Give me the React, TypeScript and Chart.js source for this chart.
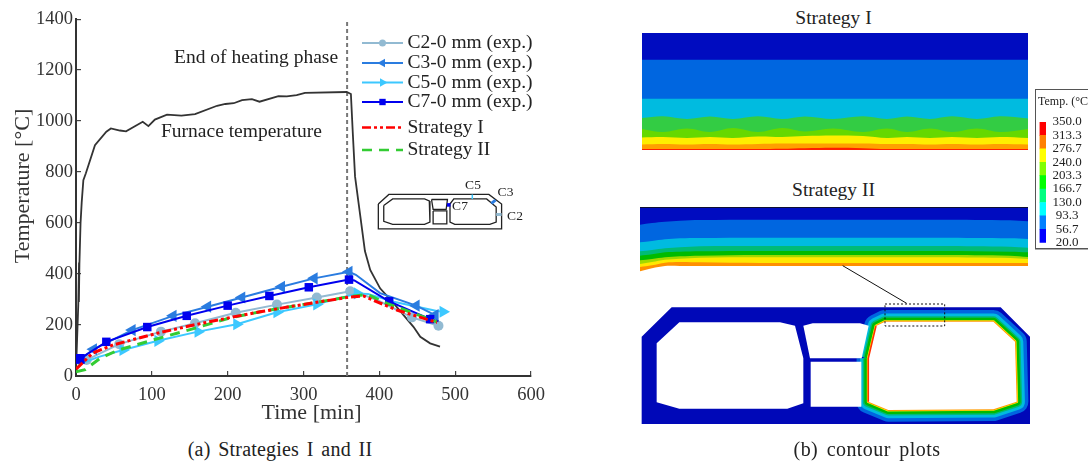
import React, { useEffect, useRef } from "react";
import { Chart, registerables } from "chart.js";

Chart.register(...registerables);

const SERIF = "'Liberation Serif', serif";

// ---------- (a) temperature curves ----------
const furnaceTime = [0, 3, 4, 3.8, 4.5, 6, 7.5, 9.7, 13, 25, 40, 46, 58, 66, 88, 95.5, 104, 120, 139, 157, 186, 197, 208, 219, 232, 242, 267, 278, 291, 302, 357, 362.5, 365, 368, 375, 381, 388, 401, 419, 445, 454, 467, 480];
const furnaceTemp = [20, 280, 445, 290, 440, 600, 680, 768, 795, 905, 958, 971, 963, 960, 997, 980, 1006, 1025, 1021, 1027, 1060, 1067, 1070, 1082, 1086, 1076, 1098, 1097, 1102, 1111, 1114, 1106, 953, 782, 625, 490, 416, 344, 285, 193, 154, 128, 115];
const endOfHeatingTime = [357.5, 357.5];
const endOfHeatingTemp = [0, 1400];

const c2Time = [3, 14, 57, 112, 157, 210.6, 265, 317.5, 361.5, 370, 397, 443, 478];
const c2Temp = [50, 63, 125, 174, 207, 248, 280, 308, 332, 328, 298, 230, 197];
const c2Radius = [0, 5, 5, 5, 5, 5, 5, 5, 5, 0, 0, 5, 5];

const c3Time = [3, 23, 74, 128, 173.6, 218.6, 271, 314, 360, 369, 401, 448.5, 473.6];
const c3Temp = [60, 105, 180, 236, 272, 308, 350, 383, 409, 397, 325, 276, 239];
const c3Radius = [0, 7, 7, 7, 7, 7, 7, 7, 7, 0, 0, 7, 7];

const c5Time = [3, 30, 62, 108, 161, 212, 265, 317.5, 371, 385, 419, 476, 484];
const c5Temp = [45, 75, 102, 138, 174, 203, 250, 281, 324, 322, 291, 255, 252];
const c5Radius = [0, 0, 7, 7, 7, 7, 7, 7, 7, 0, 0, 0, 7];

const c7Time = [0, 5, 40, 94, 146, 200, 255, 307, 360, 367, 413, 467, 478];
const c7Temp = [60, 67, 134, 192, 236, 276, 314, 348, 378, 375, 293, 223, 215];
const c7Radius = [0, 7, 6, 6, 6, 6, 6, 6, 6, 0, 6, 6, 0];

const s1Time = [0, 22, 49, 106, 155, 203, 243, 282, 317.5, 357, 379, 397, 423, 476];
const s1Temp = [27, 90, 122, 167, 200, 229, 252, 272, 289, 308, 314, 291, 259, 210];
const s2Time = [0, 12, 32, 56, 106, 155, 203, 243, 282, 317.5, 357, 384, 410, 476];
const s2Temp = [17, 25, 70, 102, 145, 186, 228, 252, 272, 289, 310, 320, 285, 212];

const xTickStep = 100;
const yTickStep = 200;

const legendLabels = ["C2-0 mm (exp.)", "C3-0 mm (exp.)", "C5-0 mm (exp.)", "C7-0 mm (exp.)", "Strategy I", "Strategy II"];
const legendRows = [43, 63, 82.5, 102, 127.5, 150];
const legendRadius = [3.5, 5, 5, 4.5, 0, 0];

// ---------- inset cross-section ----------
const insetOuter = [[45, 100], [78, 68], [392, 68], [432, 100], [432, 183], [45, 183], [45, 100]];
const insetLeft = [[62, 105], [90, 83], [190, 83], [205, 90], [207, 160], [190, 168], [90, 168], [62, 158], [62, 105]];
const insetMidTop = [[212, 85], [262, 85], [258, 118], [217, 118], [212, 85]];
const insetMidBottom = [[217, 123], [260, 123], [260, 166], [217, 166], [217, 123]];
const insetRight = [[270, 100], [282, 83], [385, 83], [415, 110], [415, 160], [395, 168], [285, 168], [270, 160], [270, 100]];
const insetC5 = [[340, 68], [340, 83]];
const insetC3 = [[400, 98], [413, 87]];
const insetC2 = [[415, 135], [432, 135]];
const insetC7 = [[266, 103]];

// ---------- Strategy I band boundaries ----------
const s1X = [0, 21, 45, 68, 91, 116, 140, 163, 191, 221, 245, 265, 288, 310, 335, 358, 386];
const s1BlueTop = [26.7, 26.7, 26.7, 26.7, 26.7, 26.7, 26.7, 26.7, 26.7, 26.7, 26.7, 26.7, 26.7, 26.7, 26.7, 26.7, 26.7];
const s1CyanTop = [65.7, 65.7, 65.7, 65.7, 65.7, 65.7, 65.7, 65.7, 65.7, 65.7, 65.7, 65.7, 65.7, 65.7, 65.7, 65.7, 65.7];
const s1GreenTop = [85, 83.3, 86, 83.5, 86, 83.3, 86, 83.4, 86, 83.3, 86, 83.5, 86, 83.3, 86, 83.3, 85.5];
const s1LimeTop = [96, 99, 95.5, 99, 95, 99, 95, 98.5, 95.5, 99, 95.5, 99, 95.5, 99, 95.5, 99, 96];
const s1YellowTop = [104.5, 104, 105, 104, 105, 103.5, 104, 103, 102.5, 103, 105, 104, 105, 104, 105, 104, 105];
const s1OrangeTop = [111.5, 111, 111.5, 111, 111.5, 111, 110.5, 110.5, 110.5, 110.5, 111, 111, 111.5, 111, 111.5, 111, 111.5];
const s1RedTop = [116, 116, 116, 116, 116, 116, 115.7, 115.2, 114.8, 115.2, 116, 116, 116, 116, 116, 116, 116];

// ---------- Strategy II band boundaries ----------
const s2X = [0, 12, 25, 40, 60, 120, 200, 300, 370, 388];
const s2BlueTop = [17.7, 16, 14.7, 13.7, 13, 12.7, 12.7, 12.7, 13.3, 14.3];
const s2CyanTop = [35.3, 34, 32.3, 31.3, 31, 30.7, 30.7, 30.7, 31.3, 32];
const s2TealTop = [44.3, 43, 41.3, 40.3, 39.3, 39, 39, 39, 39.7, 40.7];
const s2GreenTop = [48.7, 47.3, 45.3, 44.7, 44.3, 44, 44, 44, 44.7, 45.3];
const s2LimeTop = [53.3, 52, 50.3, 49.3, 48.7, 48, 48, 48, 48.7, 50];
const s2YellowTop = [57, 55, 52.7, 51.7, 50.7, 50.3, 50.3, 50.3, 51, 52];
const s2OrangeTop = [60, 58.3, 55.7, 55, 55.3, 56, 56, 56, 56, 56];
const s2WhiteTop = [64.3, 61.3, 59, 59, 59, 59, 59, 59, 59, 59];

// ---------- full section contour ----------
const sectionOuter = [[35, 125], [125, 37], [1112, 37], [1200, 125], [1200, 387], [35, 387], [35, 125]];
const sectionLeft = [[80, 145], [148, 82], [450, 82], [495, 92], [520, 190], [520, 325], [472, 341], [148, 341], [80, 322], [80, 145]];
const sectionMidTop = [[520, 92], [548, 85], [690, 85], [716, 92], [695, 190], [540, 190], [520, 92]];
const sectionMidBottom = [[542, 200], [694, 200], [694, 335], [542, 335], [542, 200]];
const sectionRight = [[715, 190], [738, 93], [765, 80], [1090, 80], [1155, 140], [1160, 320], [1090, 343], [775, 345], [715, 320], [715, 190]];
const sectionHotEdge = [[715, 320], [715, 190], [738, 93]];
const ringColours = ["#0066E0", "#00BBE0", "#00BB77", "#00BB00", "#FFE800", "#FF9A00"];
const ringWidths = [23.5, 16.5, 11, 8, 3, 1.8];
const leaderLine = [[638, -88], [830, 25]];
const zoomBox = [[765, 27], [944, 27], [944, 93], [765, 93], [765, 27]];

// ---------- colour legend ----------
const levels = [20, 56.7, 93.3, 130, 166.7, 203.3, 240, 276.7, 313.3, 350];
const levelColours = ["#0000FF", "#0080FF", "#00FFFF", "#00FF80", "#00FF00", "#80FF00", "#FFFF00", "#FF8000", "#FF0000"];

const zip = (xs: number[], ys: number[]) => xs.map((x, i) => ({ x, y: ys[i] }));
const pts = (p: number[][]) => p.map(([x, y]) => ({ x, y }));
const ordered = (list: any[]) => list.map((d, i) => ({ ...d, order: list.length - i }));

const notes = (items: any[]) => ({
  id: "notes",
  afterDatasetsDraw(chart: any) {
    const { ctx } = chart;
    ctx.textBaseline = "middle";
    items.forEach((n) => {
      ctx.save();
      ctx.fillStyle = n.color || "#222";
      ctx.font = n.font;
      ctx.textAlign = n.align || "left";
      ctx.translate(n.x, n.y);
      if (n.rotate) ctx.rotate(n.rotate);
      ctx.fillText(n.text, 0, 0);
      ctx.restore();
    });
  },
});

const baseOptions = {
  responsive: false,
  animation: false,
  events: [],
  elements: { point: { radius: 0 } },
  plugins: { legend: { display: false }, tooltip: { enabled: false }, title: { display: false } },
};

const hiddenScales = (xMin: number, xMax: number, yMin: number, yMax: number) => ({
  x: { type: "linear", display: false, min: xMin, max: xMax },
  y: { type: "linear", display: false, min: yMin, max: yMax, reverse: true },
});

const styleC2 = { borderColor: "#92BAD2", backgroundColor: "#92BAD2", pointStyle: "circle", pointRotation: 0 };
const styleC3 = { borderColor: "#2A7CE0", backgroundColor: "#2A7CE0", pointStyle: "triangle", pointRotation: -90 };
const styleC5 = { borderColor: "#3CC8FF", backgroundColor: "#3CC8FF", pointStyle: "triangle", pointRotation: 90 };
const styleC7 = { borderColor: "#0000EE", backgroundColor: "#0000EE", pointStyle: "rect", pointRotation: 0 };
const styleS1 = { borderColor: "#FF0000", borderDash: [9, 3, 3, 3, 3, 3] };
const styleS2 = { borderColor: "#33CC33", borderDash: [10, 7] };

const tickLabel = (v: any) => String(v);

const mainConfig = {
  type: "line",
  data: {
    datasets: ordered([
      { data: zip(endOfHeatingTime, endOfHeatingTemp), borderColor: "#777", borderWidth: 2, borderDash: [4, 3] },
      { data: zip(furnaceTime, furnaceTemp), borderColor: "#333", borderWidth: 1.8 },
      { data: zip(c2Time, c2Temp), ...styleC2, borderWidth: 2, pointRadius: c2Radius, pointBorderWidth: 0 },
      { data: zip(c5Time, c5Temp), ...styleC5, borderWidth: 2, pointRadius: c5Radius, pointBorderWidth: 0 },
      { data: zip(c3Time, c3Temp), ...styleC3, borderWidth: 2, pointRadius: c3Radius, pointBorderWidth: 0 },
      { data: zip(c7Time, c7Temp), ...styleC7, borderWidth: 2, pointRadius: c7Radius, pointBorderWidth: 0 },
      { data: zip(s2Time, s2Temp), ...styleS2, borderWidth: 3 },
      { data: zip(s1Time, s1Temp), ...styleS1, borderWidth: 3 },
    ]),
  },
  options: {
    ...baseOptions,
    layout: { padding: { top: 19, right: 29, left: 0, bottom: 0 } },
    scales: {
      x: {
        type: "linear",
        min: 0,
        max: 600,
        ticks: { stepSize: xTickStep, font: { family: SERIF, size: 18.5 }, color: "#333", padding: 13, maxRotation: 0, callback: tickLabel },
        grid: { drawOnChartArea: false, tickLength: -5, color: "#444", lineWidth: 1.2 },
        border: { color: "#333", width: 2 },
        afterFit: (s: any) => { s.height = 54; },
      },
      y: {
        type: "linear",
        min: 0,
        max: 1400,
        ticks: { stepSize: yTickStep, font: { family: SERIF, size: 18.5 }, color: "#333", padding: 8, callback: tickLabel },
        grid: { drawOnChartArea: false, tickLength: -5, color: "#444", lineWidth: 1.2 },
        border: { color: "#333", width: 2 },
        afterFit: (s: any) => { s.width = 76; },
      },
    },
  },
  plugins: [
    notes([
      { text: "End of heating phase", x: 174, y: 58, font: `19.5px ${SERIF}` },
      { text: "Furnace temperature", x: 161, y: 132, font: `19.5px ${SERIF}` },
      { text: "Time [min]", x: 311.5, y: 413, align: "center", font: `22px ${SERIF}`, color: "#333" },
      { text: "Temperature [°C]", x: 23, y: 186, align: "center", rotate: -Math.PI / 2, font: `22px ${SERIF}`, color: "#333" },
    ]),
  ],
};

const legendStyles = [styleC2, styleC3, styleC5, styleC7, styleS1, styleS2];
const legendConfig = {
  type: "line",
  data: {
    datasets: legendStyles.map((st, i) => ({
      data: [2, 22.5, 43].map((x) => ({ x, y: legendRows[i] })),
      ...st,
      borderWidth: i < 4 ? 2 : 2.5,
      pointRadius: [0, legendRadius[i], 0],
      pointBorderWidth: 0,
    })),
  },
  options: { ...baseOptions, layout: { padding: 0 }, scales: hiddenScales(0, 180, 30, 160) },
  plugins: [
    notes(legendLabels.map((text, i) => ({ text, x: 47.5, y: legendRows[i] - 30, font: `19.5px ${SERIF}` }))),
  ],
};

const insetLine = (p: number[][], color = "#222", width = 1.3) => ({ data: pts(p), borderColor: color, borderWidth: width });
const insetConfig = {
  type: "line",
  data: {
    datasets: ordered([
      insetLine(insetOuter),
      insetLine(insetLeft),
      insetLine(insetMidTop),
      insetLine(insetMidBottom),
      insetLine(insetRight),
      insetLine(insetC5, "#3CC8FF", 1.5),
      insetLine(insetC3, "#2A7CE0", 3),
      insetLine(insetC2, "#92BAD2", 3),
      { data: pts(insetC7), backgroundColor: "#0000EE", pointStyle: "rect", pointRadius: 2.5, pointBorderWidth: 0, showLine: false },
    ]),
  },
  options: { ...baseOptions, layout: { padding: 0 }, scales: hiddenScales(0, 540, 0, 240) },
  plugins: [
    notes([
      { text: "C5", x: 113, y: 15, align: "center", font: `13.5px ${SERIF}` },
      { text: "C3", x: 145.5, y: 22, align: "center", font: `13.5px ${SERIF}` },
      { text: "C2", x: 155, y: 46, align: "center", font: `13.5px ${SERIF}` },
      { text: "C7", x: 100, y: 36, align: "center", font: `13.5px ${SERIF}` },
    ]),
  ],
};

const band = (xs: number[], ys: number[], color: string, bottom: number) => ({
  data: zip(xs, ys),
  borderWidth: 0,
  backgroundColor: color,
  fill: { target: { value: bottom } },
  tension: 0.35,
});

const s1Bottom = 117;
const strategy1Config = {
  type: "line",
  data: {
    datasets: ordered([
      band([0, 386], [0, 0], "#000CC0", s1Bottom),
      band(s1X, s1BlueTop, "#0066E0", s1Bottom),
      band(s1X, s1CyanTop, "#00BBE0", s1Bottom),
      band(s1X, s1GreenTop, "#33CC44", s1Bottom),
      band(s1X, s1LimeTop, "#66D800", s1Bottom),
      band(s1X, s1YellowTop, "#FFEE00", s1Bottom),
      band(s1X, s1OrangeTop, "#FFA000", s1Bottom),
      band(s1X, s1RedTop, "#FF2000", s1Bottom),
    ]),
  },
  options: { ...baseOptions, layout: { padding: 0 }, scales: hiddenScales(0, 386, 0, s1Bottom) },
};

const s2Bottom = 66;
const strategy2Config = {
  type: "line",
  data: {
    datasets: ordered([
      band([0, 388], [0, 0], "#000CC0", s2Bottom),
      band(s2X, s2BlueTop, "#0066E0", s2Bottom),
      band(s2X, s2CyanTop, "#00BBE0", s2Bottom),
      band(s2X, s2TealTop, "#00BB77", s2Bottom),
      band(s2X, s2GreenTop, "#00BB00", s2Bottom),
      band(s2X, s2LimeTop, "#A0D800", s2Bottom),
      band(s2X, s2YellowTop, "#FFE800", s2Bottom),
      band(s2X, s2OrangeTop, "#FF9000", s2Bottom),
      band(s2X, s2WhiteTop, "#FFFFFF", s2Bottom),
      { data: zip([0, 388], [0.3, 0.3]), borderColor: "#111", borderWidth: 1 },
    ]),
  },
  options: { ...baseOptions, layout: { padding: 0 }, scales: hiddenScales(0, 388, 0, s2Bottom) },
};

const shape = (p: number[][], color: string) => ({ data: pts(p), backgroundColor: color, borderWidth: 0, fill: "shape" });
const sectionConfig = {
  type: "line",
  data: {
    datasets: ordered([
      shape(sectionOuter, "#0008B8"),
      ...ringColours.map((c, i) => ({
        data: pts(sectionRight),
        borderColor: c,
        borderWidth: ringWidths[i],
        borderJoinStyle: "round",
      })),
      shape(sectionRight, "#FFFFFF"),
      shape(sectionLeft, "#FFFFFF"),
      shape(sectionMidTop, "#FFFFFF"),
      shape(sectionMidBottom, "#FFFFFF"),
      { data: pts(sectionHotEdge), borderColor: "#FF3000", borderWidth: 1.5 },
      { data: pts(leaderLine), borderColor: "#111", borderWidth: 1 },
      { data: pts(zoomBox), borderColor: "#111", borderWidth: 1, borderDash: [2, 2] },
    ]),
  },
  options: { ...baseOptions, layout: { padding: 0 }, scales: hiddenScales(0, 1260, -105, 405) },
};

const colourbarConfig = {
  type: "bar",
  data: {
    labels: ["Temp."],
    datasets: levelColours.map((c, i) => ({
      data: [[levels[i], levels[i + 1]]],
      backgroundColor: c,
      borderWidth: 0,
      barPercentage: 1,
      categoryPercentage: 1,
      grouped: false,
    })),
  },
  options: {
    ...baseOptions,
    layout: { padding: { left: 3.5, top: 32, bottom: 6, right: 0 } },
    scales: {
      x: { display: false },
      y: {
        position: "right",
        min: 20,
        max: 350,
        afterBuildTicks: (s: any) => { s.ticks = levels.map((value) => ({ value })); },
        ticks: {
          autoSkip: false,
          crossAlign: "center",
          padding: 6.5,
          color: "#222",
          font: { family: SERIF, size: 13 },
          callback: (v: number) => v.toFixed(1),
        },
        grid: { display: false, drawTicks: false },
        border: { display: false },
        afterFit: (s: any) => { s.width = 50; },
      },
    },
  },
  plugins: [notes([{ text: "Temp. (°C)", x: 2, y: 12, font: `12px ${SERIF}` }])],
};

const canvases = [
  { config: mainConfig, left: 0, top: 0, width: 560, height: 430 },
  { config: legendConfig, left: 360, top: 30, width: 180, height: 130 },
  { config: insetConfig, left: 360, top: 170, width: 180, height: 80 },
  { config: strategy1Config, left: 642, top: 33, width: 386, height: 117 },
  { config: strategy2Config, left: 640, top: 207, width: 388, height: 66 },
  { config: sectionConfig, left: 630, top: 260, width: 420, height: 170 },
  { config: colourbarConfig, left: 1036, top: 90, width: 60, height: 167 },
];

const labelStyle = (left: number, top: number, font: string, size: number, extra = {}) => ({
  position: "absolute" as const,
  left,
  top,
  transform: "translate(-50%, -50%)",
  whiteSpace: "nowrap" as const,
  fontFamily: font,
  fontSize: size,
  color: "#222",
  ...extra,
});

export default function App() {
  const refs = useRef<(HTMLCanvasElement | null)[]>([]);
  useEffect(() => {
    const charts = canvases.map((c, i) => new Chart(refs.current[i] as any, c.config as any));
    return () => charts.forEach((c) => c.destroy());
  }, []);
  return (
    <div style={{ position: "fixed", left: 0, top: 0, width: 1088, height: 462, overflow: "hidden", background: "#fff" }}>
      <div style={{ position: "absolute", left: 1035, top: 89, width: 80, height: 158, border: "1px solid #555", boxShadow: "0 1px 0 #aaa" }} />
      {canvases.map((c, i) => (
        <canvas
          key={i}
          ref={(el) => { refs.current[i] = el; }}
          width={c.width}
          height={c.height}
          style={{ position: "absolute", left: c.left, top: c.top, width: c.width, height: c.height }}
        />
      ))}
      <div style={labelStyle(833.5, 18, SERIF, 19.5)}>Strategy I</div>
      <div style={labelStyle(833.5, 190, SERIF, 19.5)}>Strategy II</div>
      <div style={labelStyle(280, 449, SERIF, 20, { wordSpacing: 2.5, letterSpacing: 0.2 })}>(a) Strategies I and II</div>
      <div style={labelStyle(867, 449, SERIF, 20, { wordSpacing: 3, letterSpacing: 0.45 })}>(b) contour plots</div>
    </div>
  );
}
